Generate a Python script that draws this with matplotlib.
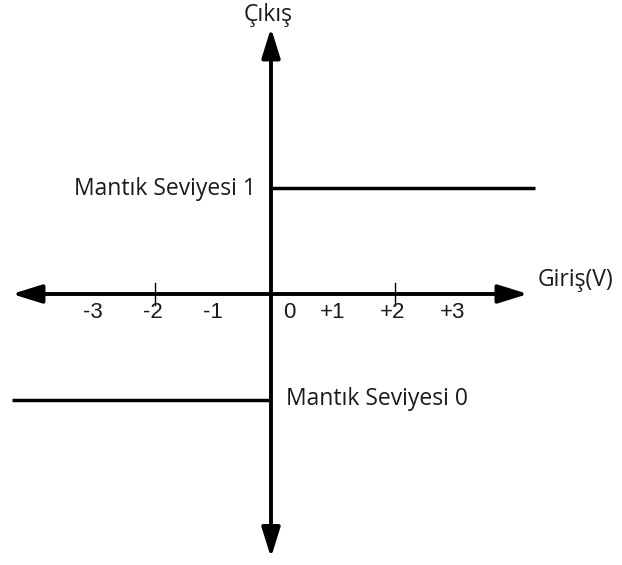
import matplotlib.pyplot as plt
from matplotlib.transforms import offset_copy

# transfer characteristic of an ideal logic input
x_ticks = [-3, -2, -1, 0, 1, 2, 3]
x_tick_labels = ['-3', '-2', '-1', '0', '+1', '+2', '+3']
marked_ticks = [-2, 2]
step_x = [-4.317, 0, 0, 4.4]
step_y = [0, 0, 1, 1]
level_labels = ['Mantık Seviyesi 0', 'Mantık Seviyesi 1']

plt.rcParams['font.family'] = ['Open Sans', 'DejaVu Sans']

fig = plt.figure(figsize=(6.22, 5.65), dpi=100)
ax = fig.add_axes([0, 0, 1, 1])
ax.set_xlim(-271 / 60, 351 / 60)
ax.set_ylim(-165 / 212, 1 + 188 / 212)
ax.axis('off')

axis_y = 0.5
y_top, y_bottom = 1.755, -0.743
arrow = dict(arrowstyle='<|-|>,head_length=0.9,head_width=0.28',
             mutation_scale=20, lw=2.8, color='black', shrinkA=0, shrinkB=0)
ax.annotate('', xy=(4.283, axis_y), xytext=(-4.317, axis_y), arrowprops=arrow)
ax.annotate('', xy=(0, y_top), xytext=(0, y_bottom), arrowprops=arrow)

# output levels
ax.plot(step_x[:2], step_y[:2], color='black', lw=2.5, solid_capstyle='butt')
ax.plot(step_x[2:], step_y[2:], color='black', lw=2.5, solid_capstyle='butt')

# small tick marks at -2 and +2
for t in marked_ticks:
    tr = offset_copy(ax.transData, fig=fig, x=4, y=0, units='dots')
    ax.plot([t, t], [axis_y - 0.05, axis_y + 0.05], color='black', lw=1,
            transform=tr)

txt_color = '#1a1a1a'
fs = 16.5
for v, lab in zip(x_ticks, x_tick_labels):
    dx = 18 if v == 0 else 2
    tr = offset_copy(ax.transData, fig=fig, x=dx, y=-19, units='dots')
    ax.text(v, axis_y, lab, transform=tr, ha='center', va='center',
            fontsize=16, family='Liberation Sans', color=txt_color)

tr = offset_copy(ax.transData, fig=fig, x=-15, y=-1, units='dots')
ax.text(0, step_y[-1], level_labels[1], transform=tr, ha='right', va='center',
        fontsize=fs, color=txt_color)
tr = offset_copy(ax.transData, fig=fig, x=15, y=1, units='dots')
ax.text(0, step_y[0], level_labels[0], transform=tr, ha='left', va='center',
        fontsize=fs, color=txt_color)

tr = offset_copy(ax.transData, fig=fig, x=-3, y=13, units='dots')
ax.text(0, y_top, 'Çıkış', transform=tr, ha='center', va='center',
        fontsize=fs, color=txt_color)
tr = offset_copy(ax.transData, fig=fig, x=10, y=14, units='dots')
ax.text(4.283, axis_y, 'Giriş(V)', transform=tr, ha='left', va='center',
        fontsize=fs, color=txt_color)

fig.savefig('out.png', dpi=100)
